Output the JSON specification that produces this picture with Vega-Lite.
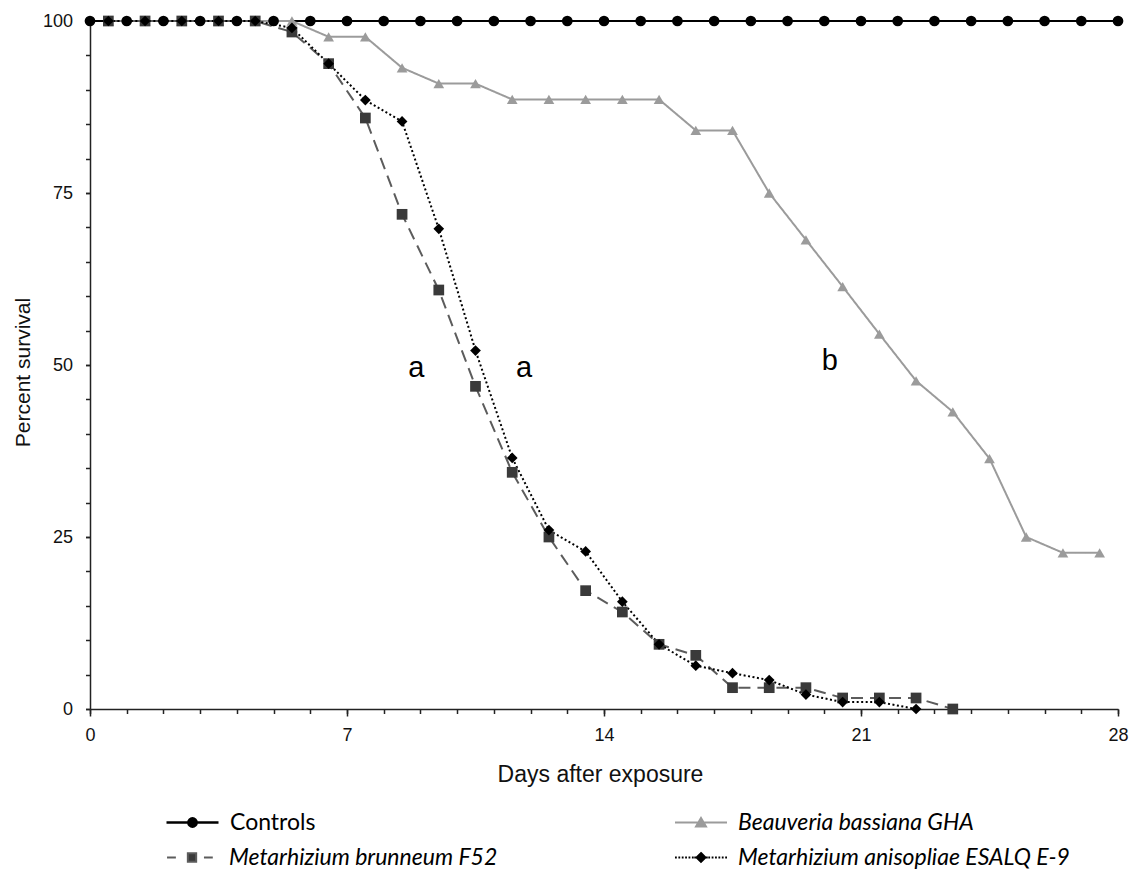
{
  "$schema": "https://vega.github.io/schema/vega-lite/v6.json",
  "width": 1028,
  "height": 688,
  "autosize": {"type": "none"},
  "padding": {"left": 90, "top": 21, "right": 13, "bottom": 161},
  "background": "white",
  "config": {
    "view": {"stroke": null},
    "font": "Liberation Sans",
    "axis": {
      "labelFont": "Liberation Sans",
      "titleFont": "Liberation Sans",
      "labelColor": "#111111",
      "titleColor": "#111111",
      "titleFontWeight": "normal",
      "domainColor": "#222222",
      "domainWidth": 1.5,
      "tickColor": "#222222",
      "tickWidth": 1.5,
      "grid": false
    },
    "legend": {
      "orient": "none",
      "title": null,
      "padding": 0,
      "clipHeight": 25,
      "labelOffset": 10,
      "symbolSize": 2704,
      "symbolOpacity": 1,
      "labelFont": "Lato",
      "labelFontSize": 23,
      "labelColor": "#000000",
      "labelLimit": 600
    }
  },
  "data": {
    "values": [
      {"series": "Controls", "day": 0, "survival": 100},
      {"series": "Controls", "day": 1, "survival": 100},
      {"series": "Controls", "day": 2, "survival": 100},
      {"series": "Controls", "day": 3, "survival": 100},
      {"series": "Controls", "day": 4, "survival": 100},
      {"series": "Controls", "day": 5, "survival": 100},
      {"series": "Controls", "day": 6, "survival": 100},
      {"series": "Controls", "day": 7, "survival": 100},
      {"series": "Controls", "day": 8, "survival": 100},
      {"series": "Controls", "day": 9, "survival": 100},
      {"series": "Controls", "day": 10, "survival": 100},
      {"series": "Controls", "day": 11, "survival": 100},
      {"series": "Controls", "day": 12, "survival": 100},
      {"series": "Controls", "day": 13, "survival": 100},
      {"series": "Controls", "day": 14, "survival": 100},
      {"series": "Controls", "day": 15, "survival": 100},
      {"series": "Controls", "day": 16, "survival": 100},
      {"series": "Controls", "day": 17, "survival": 100},
      {"series": "Controls", "day": 18, "survival": 100},
      {"series": "Controls", "day": 19, "survival": 100},
      {"series": "Controls", "day": 20, "survival": 100},
      {"series": "Controls", "day": 21, "survival": 100},
      {"series": "Controls", "day": 22, "survival": 100},
      {"series": "Controls", "day": 23, "survival": 100},
      {"series": "Controls", "day": 24, "survival": 100},
      {"series": "Controls", "day": 25, "survival": 100},
      {"series": "Controls", "day": 26, "survival": 100},
      {"series": "Controls", "day": 27, "survival": 100},
      {"series": "Controls", "day": 28, "survival": 100},
      {"series": "Beauveria bassiana GHA", "day": 0.5, "survival": 100},
      {"series": "Beauveria bassiana GHA", "day": 1.5, "survival": 100},
      {"series": "Beauveria bassiana GHA", "day": 2.5, "survival": 100},
      {"series": "Beauveria bassiana GHA", "day": 3.5, "survival": 100},
      {"series": "Beauveria bassiana GHA", "day": 4.5, "survival": 100},
      {"series": "Beauveria bassiana GHA", "day": 5.5, "survival": 100},
      {"series": "Beauveria bassiana GHA", "day": 6.5, "survival": 97.7},
      {"series": "Beauveria bassiana GHA", "day": 7.5, "survival": 97.7},
      {"series": "Beauveria bassiana GHA", "day": 8.5, "survival": 93.2},
      {"series": "Beauveria bassiana GHA", "day": 9.5, "survival": 90.9},
      {"series": "Beauveria bassiana GHA", "day": 10.5, "survival": 90.9},
      {"series": "Beauveria bassiana GHA", "day": 11.5, "survival": 88.6},
      {"series": "Beauveria bassiana GHA", "day": 12.5, "survival": 88.6},
      {"series": "Beauveria bassiana GHA", "day": 13.5, "survival": 88.6},
      {"series": "Beauveria bassiana GHA", "day": 14.5, "survival": 88.6},
      {"series": "Beauveria bassiana GHA", "day": 15.5, "survival": 88.6},
      {"series": "Beauveria bassiana GHA", "day": 16.5, "survival": 84.1},
      {"series": "Beauveria bassiana GHA", "day": 17.5, "survival": 84.1},
      {"series": "Beauveria bassiana GHA", "day": 18.5, "survival": 75.0},
      {"series": "Beauveria bassiana GHA", "day": 19.5, "survival": 68.2},
      {"series": "Beauveria bassiana GHA", "day": 20.5, "survival": 61.4},
      {"series": "Beauveria bassiana GHA", "day": 21.5, "survival": 54.5},
      {"series": "Beauveria bassiana GHA", "day": 22.5, "survival": 47.7},
      {"series": "Beauveria bassiana GHA", "day": 23.5, "survival": 43.2},
      {"series": "Beauveria bassiana GHA", "day": 24.5, "survival": 36.4},
      {"series": "Beauveria bassiana GHA", "day": 25.5, "survival": 25.0},
      {"series": "Beauveria bassiana GHA", "day": 26.5, "survival": 22.7},
      {"series": "Beauveria bassiana GHA", "day": 27.5, "survival": 22.7},
      {"series": "Metarhizium brunneum F52", "day": 0.5, "survival": 100},
      {"series": "Metarhizium brunneum F52", "day": 1.5, "survival": 100},
      {"series": "Metarhizium brunneum F52", "day": 2.5, "survival": 100},
      {"series": "Metarhizium brunneum F52", "day": 3.5, "survival": 100},
      {"series": "Metarhizium brunneum F52", "day": 4.5, "survival": 100},
      {"series": "Metarhizium brunneum F52", "day": 5.5, "survival": 98.4},
      {"series": "Metarhizium brunneum F52", "day": 6.5, "survival": 93.8},
      {"series": "Metarhizium brunneum F52", "day": 7.5, "survival": 85.9},
      {"series": "Metarhizium brunneum F52", "day": 8.5, "survival": 71.9},
      {"series": "Metarhizium brunneum F52", "day": 9.5, "survival": 60.9},
      {"series": "Metarhizium brunneum F52", "day": 10.5, "survival": 46.9},
      {"series": "Metarhizium brunneum F52", "day": 11.5, "survival": 34.4},
      {"series": "Metarhizium brunneum F52", "day": 12.5, "survival": 25.0},
      {"series": "Metarhizium brunneum F52", "day": 13.5, "survival": 17.2},
      {"series": "Metarhizium brunneum F52", "day": 14.5, "survival": 14.1},
      {"series": "Metarhizium brunneum F52", "day": 15.5, "survival": 9.4},
      {"series": "Metarhizium brunneum F52", "day": 16.5, "survival": 7.8},
      {"series": "Metarhizium brunneum F52", "day": 17.5, "survival": 3.1},
      {"series": "Metarhizium brunneum F52", "day": 18.5, "survival": 3.1},
      {"series": "Metarhizium brunneum F52", "day": 19.5, "survival": 3.1},
      {"series": "Metarhizium brunneum F52", "day": 20.5, "survival": 1.6},
      {"series": "Metarhizium brunneum F52", "day": 21.5, "survival": 1.6},
      {"series": "Metarhizium brunneum F52", "day": 22.5, "survival": 1.6},
      {"series": "Metarhizium brunneum F52", "day": 23.5, "survival": 0},
      {"series": "Metarhizium anisopliae ESALQ E-9", "day": 0.5, "survival": 100},
      {"series": "Metarhizium anisopliae ESALQ E-9", "day": 1.5, "survival": 100},
      {"series": "Metarhizium anisopliae ESALQ E-9", "day": 2.5, "survival": 100},
      {"series": "Metarhizium anisopliae ESALQ E-9", "day": 3.5, "survival": 100},
      {"series": "Metarhizium anisopliae ESALQ E-9", "day": 4.5, "survival": 100},
      {"series": "Metarhizium anisopliae ESALQ E-9", "day": 5.5, "survival": 99.0},
      {"series": "Metarhizium anisopliae ESALQ E-9", "day": 6.5, "survival": 93.8},
      {"series": "Metarhizium anisopliae ESALQ E-9", "day": 7.5, "survival": 88.5},
      {"series": "Metarhizium anisopliae ESALQ E-9", "day": 8.5, "survival": 85.4},
      {"series": "Metarhizium anisopliae ESALQ E-9", "day": 9.5, "survival": 69.8},
      {"series": "Metarhizium anisopliae ESALQ E-9", "day": 10.5, "survival": 52.1},
      {"series": "Metarhizium anisopliae ESALQ E-9", "day": 11.5, "survival": 36.5},
      {"series": "Metarhizium anisopliae ESALQ E-9", "day": 12.5, "survival": 26.0},
      {"series": "Metarhizium anisopliae ESALQ E-9", "day": 13.5, "survival": 22.9},
      {"series": "Metarhizium anisopliae ESALQ E-9", "day": 14.5, "survival": 15.6},
      {"series": "Metarhizium anisopliae ESALQ E-9", "day": 15.5, "survival": 9.4},
      {"series": "Metarhizium anisopliae ESALQ E-9", "day": 16.5, "survival": 6.3},
      {"series": "Metarhizium anisopliae ESALQ E-9", "day": 17.5, "survival": 5.2},
      {"series": "Metarhizium anisopliae ESALQ E-9", "day": 18.5, "survival": 4.2},
      {"series": "Metarhizium anisopliae ESALQ E-9", "day": 19.5, "survival": 2.1},
      {"series": "Metarhizium anisopliae ESALQ E-9", "day": 20.5, "survival": 1.0},
      {"series": "Metarhizium anisopliae ESALQ E-9", "day": 21.5, "survival": 1.0},
      {"series": "Metarhizium anisopliae ESALQ E-9", "day": 22.5, "survival": 0}
    ]
  },
  "layer": [
    {
      "mark": {"type": "line", "strokeWidth": 2},
      "encoding": {
        "x": {
          "field": "day",
          "type": "quantitative",
          "scale": {"domain": [0, 28], "nice": false, "zero": false},
          "axis": {
            "orient": "bottom",
            "values": [0, 7, 14, 21, 28],
            "tickSize": 7,
            "labelFontSize": 18,
            "labelBaseline": "alphabetic",
            "labelPadding": 24,
            "labelFlush": false,
            "labelOverlap": false,
            "title": "Days after exposure",
            "titleFontSize": 23,
            "titleX": 510,
            "titleY": 72,
            "titleBaseline": "alphabetic",
            "titleAlign": "center"
          }
        },
        "y": {
          "field": "survival",
          "type": "quantitative",
          "scale": {"domain": [0, 100], "nice": false},
          "axis": {
            "orient": "left",
            "values": [0, 25, 50, 75, 100],
            "tickSize": 4.5,
            "labelFontSize": 18,
            "labelPadding": 13,
            "labelOverlap": false,
            "labelFlush": false,
            "title": "Percent survival",
            "titleFontSize": 21,
            "titleAngle": 270,
            "titleX": -61,
            "titleY": 351,
            "titleBaseline": "alphabetic",
            "titleAlign": "center"
          }
        },
        "color": {
          "field": "series",
          "type": "nominal",
          "scale": {
            "domain": ["Controls", "Beauveria bassiana GHA", "Metarhizium brunneum F52", "Metarhizium anisopliae ESALQ E-9"],
            "range": ["#000000", "#9b9b9b", "#5c5c5c", "#000000"]
          },
          "legend": null
        },
        "strokeDash": {
          "field": "series",
          "type": "nominal",
          "scale": {
            "domain": ["Controls", "Beauveria bassiana GHA", "Metarhizium brunneum F52", "Metarhizium anisopliae ESALQ E-9"],
            "range": [[1, 0], [1, 0], [12, 7], [2, 2.5]]
          },
          "legend": null
        }
      }
    },
    {
      "mark": {"type": "point", "filled": true, "opacity": 1, "size": 115},
      "encoding": {
        "x": {
          "field": "day",
          "type": "quantitative",
          "axis": {
            "orient": "bottom",
            "values": [0,1,2,3,4,5,6,7,8,9,10,11,12,13,14,15,16,17,18,19,20,21,22,23,24,25,26,27,28],
            "tickSize": 4.5,
            "labels": false,
            "domain": false,
            "title": null
          }
        },
        "y": {
          "field": "survival",
          "type": "quantitative",
          "axis": {
            "orient": "left",
            "values": [0,5,10,15,20,25,30,35,40,45,50,55,60,65,70,75,80,85,90,95,100],
            "tickSize": 4.5,
            "labels": false,
            "domain": false,
            "title": null
          }
        },
        "color": {
          "field": "series",
          "type": "nominal",
          "scale": {
            "domain": ["Controls", "Beauveria bassiana GHA", "Metarhizium brunneum F52", "Metarhizium anisopliae ESALQ E-9"],
            "range": ["#000000", "#9b9b9b", "#3a3a3a", "#000000"]
          },
          "legend": null
        },
        "shape": {
          "field": "series",
          "type": "nominal",
          "scale": {
            "domain": ["Controls", "Beauveria bassiana GHA", "Metarhizium brunneum F52", "Metarhizium anisopliae ESALQ E-9"],
            "range": ["circle", "triangle-up", "square", "diamond"]
          },
          "legend": null
        }
      }
    },
    {
      "data": {
        "values": [
          {"day": 8.89, "survival": 48.3, "label": "a"},
          {"day": 11.82, "survival": 48.3, "label": "a"},
          {"day": 20.15, "survival": 49.3, "label": "b"}
        ]
      },
      "mark": {"type": "text", "font": "Liberation Sans", "fontSize": 29, "baseline": "alphabetic", "align": "center", "color": "#000000"},
      "encoding": {
        "x": {"field": "day", "type": "quantitative", "axis": null},
        "y": {"field": "survival", "type": "quantitative", "axis": null},
        "text": {"field": "label", "type": "nominal"}
      }
    },
    {
      "transform": [{"filter": "false"}],
      "mark": {"type": "point", "filled": true, "opacity": 1, "size": 2704, "color": "#000000", "stroke": "#000000", "strokeWidth": 2.5},
      "encoding": {
        "x": {"field": "day", "type": "quantitative", "axis": null},
        "y": {"field": "survival", "type": "quantitative", "axis": null},
        "shape": {
          "field": "series",
          "type": "nominal",
          "scale": {
            "domain": ["Controls"],
            "range": ["M-1,0L1,0M0.16,0A0.16,0.16,0,1,1,-0.16,0A0.16,0.16,0,1,1,0.16,0Z"]
          },
          "legend": {"legendX": 75, "legendY": 789, "symbolStrokeWidth": 2.5, "labelFontStyle": "normal"}
        }
      }
    },
    {
      "transform": [{"filter": "false"}],
      "mark": {"type": "point", "filled": true, "opacity": 1, "size": 2704, "color": "#3a3a3a", "stroke": "#5c5c5c", "strokeWidth": 2},
      "encoding": {
        "x": {"field": "day", "type": "quantitative", "axis": null},
        "y": {"field": "survival", "type": "quantitative", "axis": null},
        "shape": {
          "field": "series",
          "type": "nominal",
          "scale": {
            "domain": ["Metarhizium brunneum F52"],
            "range": ["M-0.96,0L-0.62,0M0.46,0L0.8,0M-0.16,-0.16L0.16,-0.16L0.16,0.16L-0.16,0.16Z"]
          },
          "legend": {"legendX": 75, "legendY": 824, "symbolStrokeWidth": 2, "labelFontStyle": "italic"}
        }
      }
    },
    {
      "transform": [{"filter": "false"}],
      "mark": {"type": "point", "filled": true, "opacity": 1, "size": 2704, "color": "#9b9b9b", "stroke": "#9b9b9b", "strokeWidth": 2},
      "encoding": {
        "x": {"field": "day", "type": "quantitative", "axis": null},
        "y": {"field": "survival", "type": "quantitative", "axis": null},
        "shape": {
          "field": "series",
          "type": "nominal",
          "scale": {
            "domain": ["Beauveria bassiana GHA"],
            "range": ["M-1,0L1,0M0,-0.17L0.19,0.15L-0.19,0.15Z"]
          },
          "legend": {"legendX": 584, "legendY": 789, "symbolStrokeWidth": 2, "labelFontStyle": "italic"}
        }
      }
    },
    {
      "transform": [{"filter": "false"}],
      "mark": {"type": "point", "filled": true, "opacity": 1, "size": 2704, "color": "#000000", "stroke": "#000000", "strokeWidth": 2},
      "encoding": {
        "x": {"field": "day", "type": "quantitative", "axis": null},
        "y": {"field": "survival", "type": "quantitative", "axis": null},
        "shape": {
          "field": "series",
          "type": "nominal",
          "scale": {
            "domain": ["Metarhizium anisopliae ESALQ E-9"],
            "range": ["M-1,0L-0.93,0M-0.87,0L-0.8,0M-0.74,0L-0.67,0M-0.61,0L-0.54,0M-0.48,0L-0.41,0M-0.35,0L-0.28,0M0.28,0L0.35,0M0.41,0L0.48,0M0.54,0L0.61,0M0.67,0L0.74,0M0.8,0L0.87,0M0.93,0L1,0M-0.26,0L-0.18,0M0.18,0L0.26,0M0,-0.17L0.17,0L0,0.17L-0.17,0Z"]
          },
          "legend": {"legendX": 584, "legendY": 824, "symbolStrokeWidth": 2, "labelFontStyle": "italic"}
        }
      }
    }
  ],
  "resolve": {
    "scale": {"color": "independent", "shape": "independent"},
    "axis": {"x": "independent", "y": "independent"},
    "legend": {"shape": "independent"}
  }
}
